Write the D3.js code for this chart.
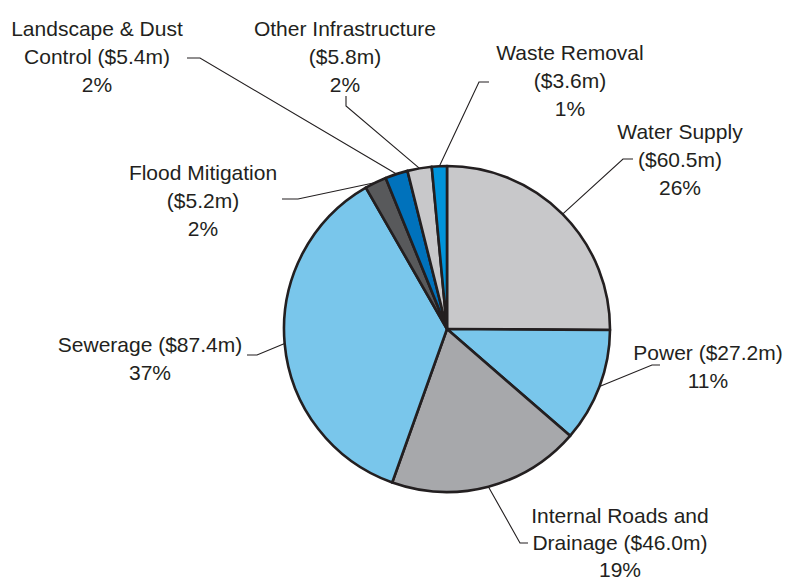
<!DOCTYPE html>
<meta charset="utf-8">
<style>
body { margin: 0; background: #fff; }
svg { display: block; }
.labels text {
  font-family: "Liberation Sans", Arial, Helvetica, sans-serif;
  font-size: 21px;
  fill: #231f20;
  text-anchor: middle;
}
.slices path {
  stroke: #231f20;
  stroke-width: 2.6;
  stroke-linejoin: round;
}
.leaders path {
  fill: none;
  stroke: #231f20;
  stroke-width: 1.1;
}
</style>
<svg width="811" height="579"></svg>
<script src="https://d3js.org/d3.v7.min.js"></script>
<script>

// data, clockwise from 12 o'clock
var categories = ["Water Supply", "Power", "Internal Roads and Drainage", "Sewerage",
                  "Flood Mitigation", "Landscape & Dust Control", "Other Infrastructure", "Waste Removal"];
var values = [60.5, 27.2, 46.0, 87.4, 5.2, 5.4, 5.8, 3.6];
var percents = ["26%", "11%", "19%", "37%", "2%", "2%", "2%", "1%"];
// how each label is broken into lines; {v} = amount, {p} = percent
var labelTemplates = [
  ["Water Supply", "{v}", "{p}"],
  ["Power {v}", "{p}"],
  ["Internal Roads and", "Drainage {v}", "{p}"],
  ["Sewerage {v}", "{p}"],
  ["Flood Mitigation", "{v}", "{p}"],
  ["Landscape & Dust", "Control {v}", "{p}"],
  ["Other Infrastructure", "{v}", "{p}"],
  ["Waste Removal", "{v}", "{p}"]
];
var colors = ["#c8c8ca", "#79c6eb", "#a7a8ab", "#79c6eb", "#58595b", "#0072bc", "#c8c8ca", "#0094da"];

// label layout: text centre x, first line centre y, line gap, leader elbow and leader end
var labelLayout = [
  { x: 680, y: 131, gap: 28,   elbow: [623, 159], end: [633, 159] },
  { x: 708, y: 352, gap: 28,   elbow: [652, 365], end: [660, 365] },
  { x: 620, y: 515, gap: 27,   elbow: [520, 543], end: [528, 543] },
  { x: 150, y: 344, gap: 28,   elbow: [257, 355], end: [247, 355] },
  { x: 203, y: 172, gap: 28,   elbow: [298, 199], end: [282, 199] },
  { x: 97,  y: 28,  gap: 28,   elbow: [200, 58],  end: [187, 58] },
  { x: 345, y: 28,  gap: 28,   elbow: [346, 106], end: [346, 96] },
  { x: 570, y: 52,  gap: 28,   elbow: [479, 82],  end: [489, 82] }
];

var svg = d3.select("svg"),
    cx = 447,
    cy = 329,
    radius = 163;

var pie = d3.pie().sort(null).value(function(d) { return d; });
var arcs = pie(values);

var arc = d3.arc().innerRadius(0).outerRadius(radius);
var edge = d3.arc().innerRadius(radius).outerRadius(radius);

var g = svg.append("g").attr("transform", "translate(" + cx + "," + cy + ")");

g.append("g")
    .attr("class", "slices")
  .selectAll("path")
  .data(arcs)
  .enter().append("path")
    .attr("d", arc)
    .attr("fill", function(d, i) { return colors[i]; });

var line = d3.line();

svg.append("g")
    .attr("class", "leaders")
  .selectAll("path")
  .data(arcs)
  .enter().append("path")
    .attr("d", function(d, i) {
      var p = edge.centroid(d);
      var L = labelLayout[i];
      return line([[cx + p[0], cy + p[1]], L.elbow, L.end]);
    });

function fmt(t, i) {
  return t.replace("{v}", "($" + values[i].toFixed(1) + "m)").replace("{p}", percents[i]);
}

var label = svg.append("g")
    .attr("class", "labels")
  .selectAll("text")
  .data(labelTemplates)
  .enter().append("text");

label.selectAll("tspan")
  .data(function(d, i) { return d.map(function(t, j) { return { text: fmt(t, i), i: i, j: j }; }); })
  .enter().append("tspan")
    .attr("x", function(d) { return labelLayout[d.i].x; })
    .attr("y", function(d) { var L = labelLayout[d.i]; return L.y + d.j * L.gap + 7.5; })
    .text(function(d) { return d.text; });

</script>
